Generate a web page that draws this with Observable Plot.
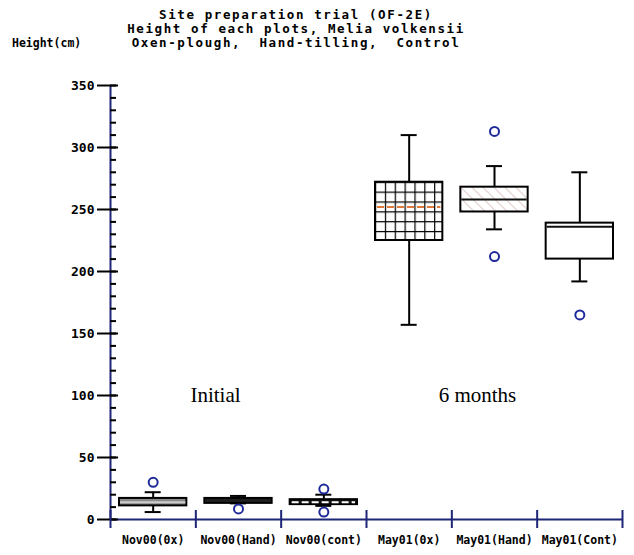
<!DOCTYPE html>
<html><head><meta charset="utf-8">
<script src="https://cdn.jsdelivr.net/npm/d3@7"></script>
<script src="https://cdn.jsdelivr.net/npm/@observablehq/plot@0.6"></script>
<style>
body{margin:0;background:#fff;width:634px;height:555px;overflow:hidden}
#head{position:relative;height:60px;font-family:"DejaVu Sans Mono",monospace;font-weight:bold;color:#000}
.t{position:absolute;left:0;width:592px;text-align:center;font-size:12.5px;line-height:14px;white-space:pre;letter-spacing:1.6px}
.yl{position:absolute;left:12px;top:37px;font-size:11.5px;line-height:12px;white-space:pre}
</style></head>
<body>
<div id="head">
  <div class="t" style="top:8px">Site preparation trial (OF-2E)</div>
  <div class="t" style="top:22px">Height of each plots, Melia volkensii</div>
  <div class="t" style="top:36px">Oxen-plough,  Hand-tilling,  Control</div>
  <div class="yl">Height(cm)</div>
</div>
<div id="chart"></div>
<script>
const categories = ["Nov00(0x)","Nov00(Hand)","Nov00(cont)","May01(0x)","May01(Hand)","May01(Cont)"];
const whiskerLow  = [6, 13, 11, 157, 234, 192];
const q1          = [11, 13, 12, 225, 248, 210];
const median      = [14, 15, 14, 252, 258, 236];
const q3          = [17, 17, 16, 272, 268, 239];
const whiskerHigh = [22, 19, 20, 310, 285, 280];
const outlierCategory = ["Nov00(0x)","Nov00(Hand)","Nov00(cont)","Nov00(cont)","May01(Hand)","May01(Hand)","May01(Cont)"];
const outlierValue    = [30, 8.5, 24.5, 6, 313, 212, 165];
const yTicksMajor = [0,50,100,150,200,250,300,350];
const noteLabels = ["Initial","6 months"];
const noteGroupPos = [1.23, 4.3];
const noteValue = [100, 100];

// styles
const boxFills = ["#8a8a8a","#1e1e1e","#141414","url(#gridPat)","url(#hatchPat)","#ffffff"];
const medianStroke = ["#cdcdcd","#1e1e1e","#ffffff","#e0793a","#111111","#111111"];
const navy = "#1e2677";

const rows = categories.map((c,i)=>({c,i,low:whiskerLow[i],q1:q1[i],med:median[i],q3:q3[i],high:whiskerHigh[i]}));
const outliers = outlierCategory.map((c,k)=>({i:categories.indexOf(c), v:outlierValue[k]}));
const notes = noteLabels.map((l,k)=>({label:l,pos:noteGroupPos[k],value:noteValue[k]}));
const minor = d3.range(0,351,10);
const bounds = d3.range(0, categories.length+1);
const inset = 9;
const solidMed = rows.filter(d=>d.i!==2 && d.i!==3);
const dashedMed = rows.filter(d=>d.i===2 || d.i===3);

const plot = Plot.plot({
  width:634, height:495,
  marginLeft:110, marginRight:12, marginTop:25, marginBottom:36,
  x:{domain:[0,categories.length], axis:null},
  y:{domain:[0,350], axis:null},
  color:{type:"identity"},
  style:{fontFamily:"DejaVu Sans Mono", fontWeight:"bold", background:"#fff", color:"#000", overflow:"visible"},
  marks:[
    Plot.ruleX([0], {stroke:navy, strokeWidth:2}),
    Plot.ruleY([0], {stroke:navy, strokeWidth:2}),
    Plot.axisY(yTicksMajor, {anchor:"left", tickSize:13, tickPadding:3, fontSize:13, strokeWidth:2, stroke:"#000"}),
    Plot.ruleY(yTicksMajor, {y:d=>d, x1:()=>0, x2:()=>0, insetRight:-8, stroke:"#000", strokeWidth:2}),
    Plot.ruleY(minor, {y:d=>d, x1:()=>0, x2:()=>0, insetRight:-6, stroke:"#000", strokeWidth:2}),
    Plot.ruleX(bounds, {x:d=>d, y1:()=>0, y2:()=>0, insetTop:-9, insetBottom:-9, stroke:navy, strokeWidth:2}),
    Plot.text(rows, {x:d=>d.i+0.5, text:"c", frameAnchor:"bottom", dy:24, fontSize:11.5, fill:"#000"}),
    Plot.ruleX(rows, {x:d=>d.i+0.5, y1:"low", y2:"q1", stroke:"#000", strokeWidth:2}),
    Plot.ruleX(rows, {x:d=>d.i+0.5, y1:"q3", y2:"high", stroke:"#000", strokeWidth:2}),
    Plot.ruleY(rows, {y:"low", x1:d=>d.i+0.5, x2:d=>d.i+0.5, insetLeft:-8, insetRight:-8, stroke:"#000", strokeWidth:2}),
    Plot.ruleY(rows, {y:"high", x1:d=>d.i+0.5, x2:d=>d.i+0.5, insetLeft:-8, insetRight:-8, stroke:"#000", strokeWidth:2}),
    Plot.rect(rows, {x1:"i", x2:d=>d.i+1, y1:"q1", y2:"q3", insetLeft:inset, insetRight:inset, fill:d=>boxFills[d.i], stroke:"#000", strokeWidth:2}),
    Plot.ruleY(solidMed, {y:"med", x1:"i", x2:d=>d.i+1, insetLeft:inset+1, insetRight:inset+1, stroke:d=>medianStroke[d.i], strokeWidth:2}),
    Plot.ruleY(dashedMed, {y:"med", x1:"i", x2:d=>d.i+1, insetLeft:inset+2, insetRight:inset+2, stroke:d=>medianStroke[d.i], strokeWidth:2, strokeDasharray:"7,3"}),
    Plot.dot(outliers, {x:d=>d.i+0.5, y:"v", r:4.5, stroke:"#1f2a9a", strokeWidth:2, fill:"none"}),
    Plot.text(notes, {x:"pos", y:"value", text:"label", fontFamily:"Liberation Serif", fontWeight:"normal", fontSize:21, fill:"#000"})
  ]
});

const xs = plot.scale("x"), ys = plot.scale("y");
const gx = xs.apply(3) + inset, gy = ys.apply(q3[3]);
const hx = xs.apply(4) + inset, hy = ys.apply(q3[4]);
const ns = "http://www.w3.org/2000/svg";
const defs = document.createElementNS(ns, "defs");
defs.innerHTML = `
<pattern id="gridPat" patternUnits="userSpaceOnUse" x="${gx}" y="${gy}" width="9.85" height="9.85">
  <rect width="9.85" height="9.85" fill="#fff"/>
  <path d="M0,0H9.85M0,0V9.85" stroke="#000" stroke-width="2.4" fill="none"/>
</pattern>
<pattern id="hatchPat" patternUnits="userSpaceOnUse" x="${hx}" y="${hy}" width="11" height="11">
  <rect width="11" height="11" fill="#fff"/>
  <path d="M-1,-1L12,12M-1,10L1,12M10,-1L12,1" stroke="#cdb3aa" stroke-width="1" fill="none"/>
</pattern>`;
plot.insertBefore(defs, plot.firstChild);
document.getElementById("chart").appendChild(plot);
</script>
</body></html>
